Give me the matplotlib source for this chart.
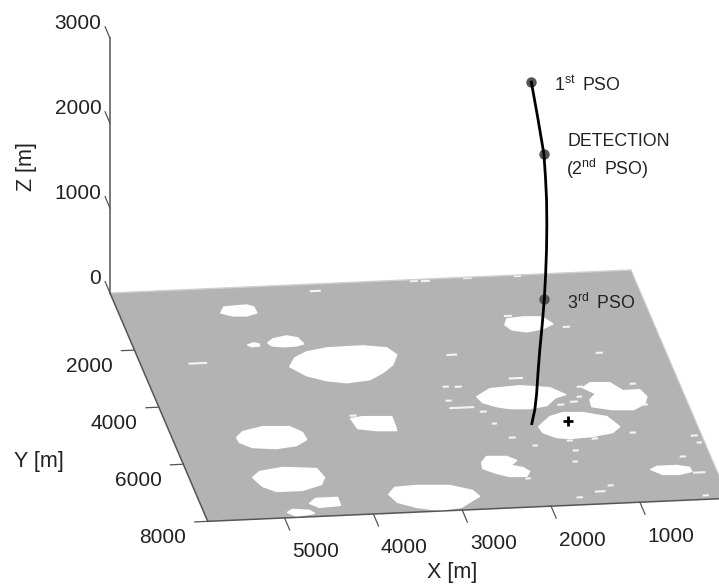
import matplotlib
matplotlib.use('Agg')
import matplotlib.pyplot as plt
from mpl_toolkits.mplot3d import proj3d
from mpl_toolkits.mplot3d.art3d import Poly3DCollection

plt.rcParams['font.family'] = ['Liberation Sans', 'DejaVu Sans']
plt.rcParams['mathtext.fontset'] = 'custom'
plt.rcParams['mathtext.rm'] = 'Liberation Sans'
plt.rcParams['mathtext.default'] = 'rm'

# axis extents [m]
x_max = 5865
y_max = 8000
z_max = 3000

x_ticks = [1000, 2000, 3000, 4000, 5000]
y_ticks = [2000, 4000, 6000, 8000]
z_ticks = [0, 1000, 2000, 3000]

# trajectory
traj_x = [1337, 1264, 1235, 1197, 1196, 1204, 1227, 1260, 1304, 1355, 1437, 1525, 1596, 1680, 1743, 1822]
traj_y = [1564, 1549, 1588, 1574, 1695, 1844, 2033, 2247, 2491, 2758, 3180, 3625, 3999, 4486, 4801, 5131]
traj_z = [2800, 2380, 2180, 1950, 1720, 1500, 1270, 1050, 840, 650, 490, 350, 220, 120, 50, 0]

pso_x = [1337, 1197, 1355]
pso_y = [1564, 1574, 2758]
pso_z = [2800, 1950, 650]

target_x = 1410
target_y = 5083

# white patches on the floor, (X, Y) outlines
blob_a = [(4735, 853), (4674, 653), (4411, 619), (4342, 698), (4337, 908), (4463, 996), (4618, 974)]
blob_b = [(4358, 1953), (4283, 1824), (4115, 1742), (4003, 1828), (3965, 2042), (4051, 2100), (4211, 2113), (4327, 2062)]
blob_b2 = [(4589, 1992), (4512, 1932), (4462, 1974), (4460, 2044), (4553, 2066)]
blob_c = [(4228, 2810), (4130, 2509), (3969, 2321), (3729, 2215), (3321, 2200), (3066, 2306), (2989, 2561),
          (3080, 2898), (3228, 3157), (3405, 3377), (3673, 3445), (3885, 3346), (4082, 3144)]
blob_d = [(1653, 1695), (1603, 1492), (1416, 1448), (1206, 1477), (1117, 1734), (1252, 1890), (1443, 1969), (1599, 1877)]
blob_e = [(2303, 4122), (2122, 3868), (1776, 3810), (1453, 3923), (1310, 4188), (1434, 4275), (1572, 4536),
          (1773, 4613), (1995, 4583), (2129, 4495), (2265, 4337)]
blob_f = [(1089, 3973), (987, 3813), (766, 3843), (702, 4026), (660, 4137), (469, 4129), (424, 4379), (479, 4616),
          (629, 4806), (872, 4772), (1079, 4639), (1068, 4396), (974, 4199)]
blob_g = [(1760, 5245), (1590, 4918), (1428, 4800), (1207, 4830), (960, 5005), (865, 5367), (970, 5562),
          (1210, 5668), (1473, 5703), (1613, 5649), (1744, 5456)]
blob_h = [(2560, 6392), (2477, 6194), (2256, 6224), (2163, 6376), (2253, 6539), (2131, 6625), (2071, 6774),
          (2129, 6941), (2317, 6915), (2446, 6792), (2577, 6600)]
blob_i = [(725, 6888), (645, 6794), (419, 6791), (285, 6878), (281, 7019), (428, 7103), (616, 7077)]
blob_j = [(3739, 7349), (3640, 7118), (3388, 7083), (3023, 7133), (2792, 7339), (2743, 7555), (2882, 7746),
          (2994, 7905), (3251, 7975), (3492, 7837), (3678, 7637)]
blob_k = [(5150, 5164), (5055, 4968), (4811, 4827), (4512, 4868), (4397, 5092), (4385, 5338), (4524, 5529),
          (4760, 5602), (5020, 5532), (5140, 5340)]
blob_l = [(3800, 4685), (3657, 4635), (3337, 4679), (3341, 5028), (3349, 5167), (3570, 5136), (3770, 5039)]
blob_m = [(5162, 6560), (5056, 6365), (4784, 6262), (4412, 6349), (4367, 6669), (4433, 6904), (4671, 7081),
          (4963, 7076), (5094, 6884)]
blob_n = [(4655, 7538), (4565, 7375), (4317, 7374), (4322, 7653), (4564, 7690)]
blob_o = [(4941, 7813), (4871, 7718), (4688, 7778), (4647, 7889), (4860, 7964)]
blobs = [blob_a, blob_b, blob_b2, blob_c, blob_d, blob_e, blob_f, blob_g, blob_h,
         blob_i, blob_j, blob_k, blob_l, blob_m, blob_n, blob_o]

# little streaks: centre and half length along X
speck_x = [3587, 2451, 2324, 1845, 1283, 5228, 1578, 983, 2381, 741, 1784, 2598, 2460, 2632, 2521, 2302, 517, 1117, 1170, 1254,
           1413, 495, 1483, 1197, 749, 2237, 2105, 1888, 1464, 1522, 83, 61, 310, 203, 240, 1243, 1642, 1387, 2122, 3759]
speck_y = [242, 48, 66, 26, 34, 2550, 1391, 1857, 2644, 2798, 3546, 3732, 3751, 4216, 4476, 4646, 3912, 3935, 4277, 4440,
           4523, 4649, 5772, 5740, 5592, 5074, 5582, 5890, 6123, 6500, 5788, 6036, 6491, 7065, 7864, 7377, 7741, 7566, 7012, 4586]
speck_len = [62, 45, 50, 50, 40, 105, 45, 40, 60, 40, 80, 35, 40, 35, 140, 40, 35, 35, 30, 45,
             40, 45, 35, 35, 35, 30, 40, 30, 35, 30, 40, 30, 35, 70, 35, 35, 35, 60, 30, 40]

grey = '#b3b3b3'
axis_col = '#555555'
text_col = '#222222'

fig = plt.figure(figsize=(7.19, 5.86), dpi=100, facecolor='white')
ax = fig.add_axes([0, 0, 1, 1], projection='3d', computed_zorder=False)
ax.set_proj_type('ortho')
ax.view_init(elev=18.74, azim=82.17, roll=0)
ax.set_xlim(0, x_max, view_margin=0)
ax.set_ylim(0, y_max, view_margin=0)
ax.set_zlim(0, z_max, view_margin=0)
ax.set_box_aspect((x_max, y_max, z_max))
ax.set_axis_off()

floor = Poly3DCollection([[(0, 0, 0), (x_max, 0, 0), (x_max, y_max, 0), (0, y_max, 0)]],
                         facecolors=grey, edgecolors='none', zorder=1)
ax.add_collection3d(floor)
patches = Poly3DCollection([[(p[0], p[1], 0) for p in b] for b in blobs],
                           facecolors='white', edgecolors='white', linewidths=1, joinstyle='round', zorder=2)
ax.add_collection3d(patches)
for i in range(len(speck_x)):
    ax.plot([speck_x[i] - speck_len[i], speck_x[i] + speck_len[i]], [speck_y[i], speck_y[i]], [0, 0],
            color='#f4f4f4', lw=1.5, solid_capstyle='butt', zorder=2)

# axis lines and ticks
ax.plot([0, x_max], [0, 0], [0, 0], color='#d0d0d0', lw=1, zorder=3)
ax.plot([0, 0], [0, y_max], [0, 0], color='#d0d0d0', lw=0.8, zorder=3)
ax.plot([0, x_max], [y_max, y_max], [0, 0], color=axis_col, lw=1.1, zorder=3)
ax.plot([x_max, x_max], [0, y_max], [0, 0], color=axis_col, lw=1.1, zorder=3)
ax.plot([x_max, x_max], [0, 0], [0, z_max], color=axis_col, lw=1.1, zorder=3)

for t in x_ticks:
    ax.plot([t, t], [y_max, y_max + 420], [0, 0], color=axis_col, lw=0.9, zorder=3)
    ax.text(t - 182, y_max + 1213, 0, str(t), ha='center', va='center', fontsize=15, color=text_col)
for t in y_ticks:
    ax.plot([x_max, x_max + 146], [t, t], [0, 0], color=axis_col, lw=0.9, zorder=3)
    ax.text(x_max + 573, t + 481, 0, str(t), ha='center', va='center', fontsize=15, color=text_col)
for t in z_ticks:
    ax.plot([x_max, x_max], [0, -400], [t, t], color=axis_col, lw=0.9, zorder=3)
    ax.text(x_max + 98, 0, t + 176, str(t), ha='right', va='center', fontsize=15, color=text_col)

ax.text(3401, 10121, 0, 'X [m]', ha='center', va='center', fontsize=15.5, color=text_col)
ax.text(7452, 5688, 0, 'Y [m]', ha='center', va='center', fontsize=15.5, color=text_col)
ax.text(6802, 0, 1538, 'Z [m]', zdir='z', ha='center', va='center', rotation_mode='anchor', fontsize=15.5, color=text_col)

# trajectory
ax.plot(pso_x, pso_y, pso_z, 'o', color='#555555', ms=7.5, mew=0, zorder=4)
ax.plot(traj_x, traj_y, traj_z, '-', color='black', lw=2, zorder=5)
ax.plot([target_x], [target_y], [0], '+', color='black', ms=7.5, mew=2, zorder=5)

ax.text(1130, 1906, 2800, r'1$^{st}\,$ PSO', va='baseline', fontsize=12.8, color=text_col, zorder=6)
ax.text(904, 1335, 1950, 'DETECTION', va='baseline', fontsize=12.8, color=text_col, zorder=6)
ax.text(1051, 2328, 1950, r'(2$^{nd}\,$ PSO)', va='baseline', fontsize=12.8, color=text_col, zorder=6)
ax.text(1153, 3135, 650, r'3$^{rd}\,$ PSO', va='baseline', fontsize=12.8, color=text_col, zorder=6)


def to_px(x, y, z):
    u, v, _ = proj3d.proj_transform(x, y, z, ax.get_proj())
    return ax.transData.transform((u, v))


# fit the axes box so that the back floor edge lands where it should (pixels, y up)
W, H = fig.canvas.get_width_height()
back_right = (631, H - 270)
back_left = (110, H - 293)
size = 900.0
left = 0.0
bottom = 0.0
for i in range(3):
    ax.set_position([left / W, bottom / H, size / W, size / H])
    fig.canvas.draw()
    p0 = to_px(0, 0, 0)
    p1 = to_px(x_max, 0, 0)
    meas = ((p1[0] - p0[0]) ** 2 + (p1[1] - p0[1]) ** 2) ** 0.5
    want = ((back_left[0] - back_right[0]) ** 2 + (back_left[1] - back_right[1]) ** 2) ** 0.5
    k = want / meas
    # scale about the box centre, then shift
    off_x = (p0[0] - (left + size / 2)) * k
    off_y = (p0[1] - (bottom + size / 2)) * k
    size = size * k
    left = back_right[0] - off_x - size / 2
    bottom = back_right[1] - off_y - size / 2

ax.set_position([left / W, bottom / H, size / W, size / H])
fig.savefig('out.png', dpi=100)
